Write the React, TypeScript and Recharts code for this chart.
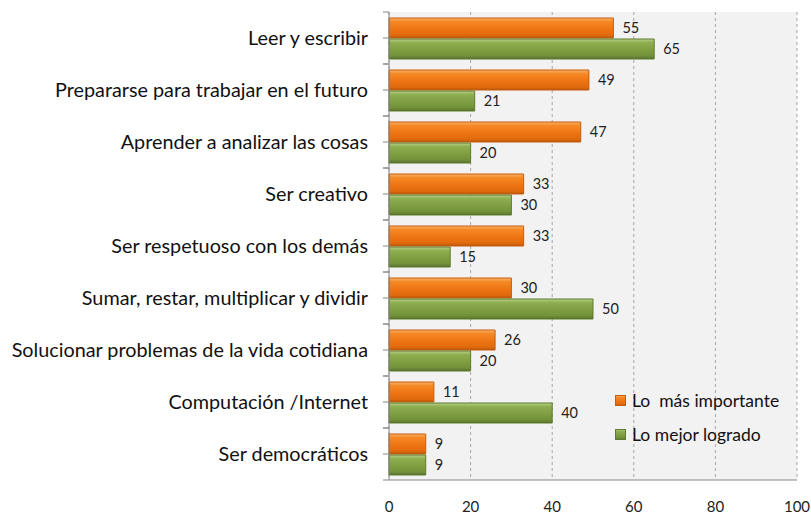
import { Bar, BarChart, CartesianGrid, LabelList, XAxis, YAxis } from 'recharts'

const categories = [
  'Leer y escribir',
  'Prepararse para trabajar en el futuro',
  'Aprender a analizar las cosas',
  'Ser creativo ',
  'Ser respetuoso con los demás',
  'Sumar, restar, multiplicar y dividir',
  'Solucionar problemas de la vida cotidiana',
  'Computación /Internet',
  'Ser democráticos',
]
const masImportante = [55, 49, 47, 33, 33, 30, 26, 11, 9]
const mejorLogrado = [65, 21, 20, 30, 15, 50, 20, 40, 9]
const xTicks = [0, 20, 40, 60, 80, 100]

const data = categories.map((name, i) => ({
  name,
  importante: masImportante[i],
  logrado: mejorLogrado[i],
}))

const font = 'Lato, "Open Sans", sans-serif'

function CategoryTick({ x, y, payload }: any) {
  return (
    <g>
      <line x1={x + 15} x2={x + 21} y1={y - 26} y2={y - 26} stroke="#868686" />
      <line x1={x + 15} x2={x + 21} y1={y} y2={y} stroke="#868686" />
      <line x1={x + 15} x2={x + 21} y1={y + 26} y2={y + 26} stroke="#868686" />
      <text x={x} y={y} dy="0.35em" textAnchor="end" fontSize={19.8} fill="#111" fontFamily={font}>
        {payload.value}
      </text>
    </g>
  )
}

const legendItems = [
  { label: 'Lo  más importante', fill: 'url(#gOrange)', stroke: '#c55d0c' },
  { label: 'Lo mejor logrado', fill: 'url(#gGreen)', stroke: '#5f7b2e' },
]

export default function App() {
  return (
    <div style={{ position: 'absolute', left: 0, top: 0, width: 811, height: 514, background: '#fff' }}>
      <style>{`body{margin:0}`}</style>
      <BarChart
        width={811}
        height={514}
        data={data}
        layout="vertical"
        margin={{ top: 12, right: 14, bottom: 4, left: 0 }}
        barSize={20}
        barGap={1}
      >
        <defs>
          <linearGradient id="gOrange" x1="0" y1="0" x2="0" y2="1">
            <stop offset="0" stopColor="#fbb46a" />
            <stop offset="0.18" stopColor="#f58a26" />
            <stop offset="0.55" stopColor="#ee7413" />
            <stop offset="0.85" stopColor="#e26b0d" />
            <stop offset="1" stopColor="#b9560a" />
          </linearGradient>
          <linearGradient id="gGreen" x1="0" y1="0" x2="0" y2="1">
            <stop offset="0" stopColor="#b8d186" />
            <stop offset="0.18" stopColor="#8fae52" />
            <stop offset="0.55" stopColor="#7f9e41" />
            <stop offset="0.85" stopColor="#72903a" />
            <stop offset="1" stopColor="#55702a" />
          </linearGradient>
        </defs>
        <CartesianGrid horizontal={false} strokeDasharray="3 3" stroke="#a6a6a6" fill="#f2f2f2" />
        <XAxis
          type="number"
          domain={[0, 100]}
          ticks={xTicks}
          height={30}
          tickLine={false}
          axisLine={{ stroke: '#868686' }}
          tickMargin={15}
          tick={{ fontSize: 15, fill: '#222', fontFamily: font }}
        />
        <YAxis
          type="category"
          dataKey="name"
          width={389}
          tickLine={false}
          axisLine={{ stroke: '#868686' }}
          tickMargin={21}
          tickSize={0}
          tick={<CategoryTick />}
          interval={0}
        />
        <Bar dataKey="importante" fill="url(#gOrange)" stroke="#c55d0c" isAnimationActive={false}>
          <LabelList dataKey="importante" position="right" offset={9} fontSize={14.5} fill="#222" fontFamily={font} />
        </Bar>
        <Bar dataKey="logrado" fill="url(#gGreen)" stroke="#5f7b2e" isAnimationActive={false}>
          <LabelList dataKey="logrado" position="right" offset={9} fontSize={14.5} fill="#222" fontFamily={font} />
        </Bar>
      </BarChart>
      <div
        style={{
          position: 'absolute',
          left: 615,
          top: 383,
          fontFamily: font,
          fontSize: 17.5,
          color: '#111',
        }}
      >
        {legendItems.map((it) => (
          <div key={it.label} style={{ display: 'flex', alignItems: 'center', height: 34, whiteSpace: 'pre' }}>
            <svg width={11} height={11} style={{ marginRight: 6 }}>
              <rect x={0.5} y={0.5} width={10} height={10} fill={it.fill} stroke={it.stroke} />
            </svg>
            {it.label}
          </div>
        ))}
      </div>
    </div>
  )
}
